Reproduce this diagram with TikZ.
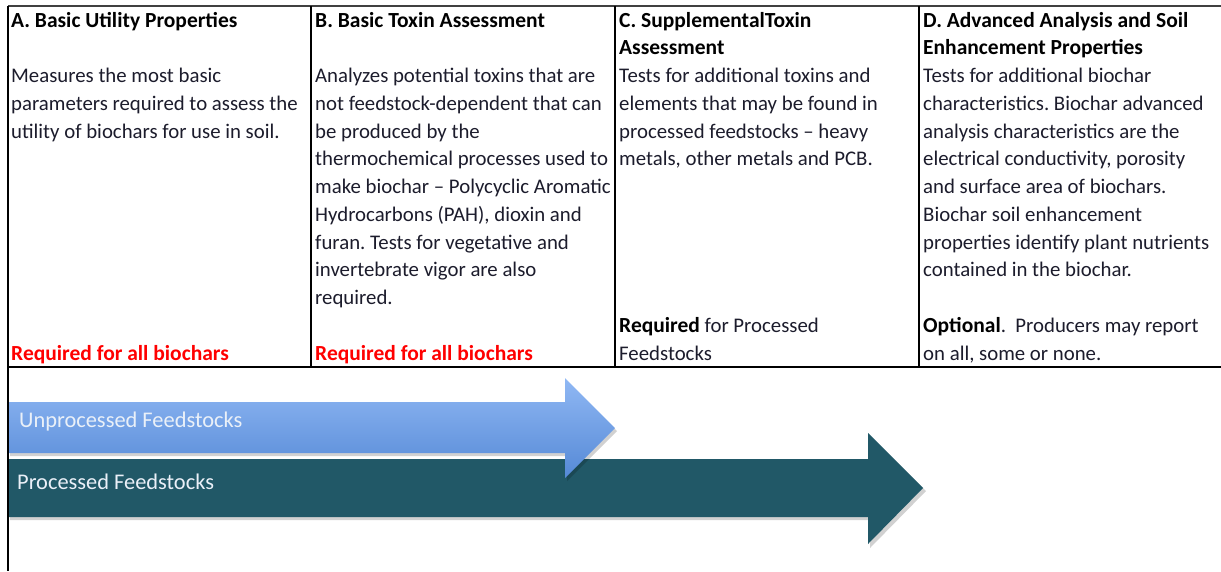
\documentclass[tikz,border=0pt]{standalone}
\usepackage{fontspec}
\setmainfont{Carlito}
\frenchspacing
\definecolor{bodytxt}{HTML}{1C1C2C}
\definecolor{reqred}{HTML}{FF0000}
\definecolor{teal}{HTML}{215867}
\definecolor{bluetop}{HTML}{90B8F4}
\definecolor{bluebot}{HTML}{5589D6}
\definecolor{arrowtxt}{HTML}{EAF0F8}
\begin{document}
\begin{tikzpicture}[x=1pt,y=-1pt,
  cell/.style={anchor=base west,inner sep=0pt,font=\fontsize{20.8}{24}\selectfont,text=bodytxt},
  head/.style={cell,text=black,font=\fontsize{21.5}{24}\selectfont\bfseries},
  req/.style={cell,text=reqred,font=\fontsize{21.5}{24}\selectfont\bfseries},
  grid/.style={line width=1.8pt,black},
  arrowlabel/.style={anchor=west,inner sep=0pt,font=\fontsize{22.4}{26}\selectfont,text=arrowtxt}]
\useasboundingbox (0,0) rectangle (1221,571);
\fill[white] (0,0) rectangle (1221,571);
% grid
\coordinate (tl) at (8,6);
\coordinate (tr) at (1221,6);
\coordinate (bl) at (8,367);
\coordinate (br) at (1221,367);
\coordinate (lb) at (8,571);
\draw[line width=2pt,black!75] (tl) -- (tr);
\draw[grid] (bl) -- (br);
\draw[line width=1.5pt,black] (tl) -- (lb);
\foreach \x/\n in {311/b,615/c,919/d}{
  \coordinate (top\n) at (\x,6);
  \coordinate (bot\n) at (\x,367);
  \draw[grid] (top\n) -- (bot\n);
}
% baseline of line n = 27 + (n-1)*27.75
% Column A
\node[head] (ah) at (11,27) {A. Basic Utility Properties};
\foreach \t [count=\i] in {{Measures the most basic},{parameters required to assess the},{utility of biochars for use in soil.}}{
  \node[cell] (a\i) at (11,{27+(\i+1)*27.75}) {\t};
}
\node[req] (areq) at (11,{27+12*27.75}) {Required for all biochars};
% Column B
\node[head] (bh) at (315,27) {B. Basic Toxin Assessment};
\foreach \t [count=\i] in {{Analyzes potential toxins that are},{not feedstock-dependent that can},{be produced by the},{thermochemical processes used to},{make biochar – Polycyclic Aromatic},{Hydrocarbons (PAH), dioxin and},{furan. Tests for vegetative and},{invertebrate vigor are also},{required.}}{
  \node[cell] (b\i) at (315,{27+(\i+1)*27.75}) {\t};
}
\node[req] (breq) at (315,{27+12*27.75}) {Required for all biochars};
% Column C
\node[head] (ch1) at (619,27) {C. SupplementalToxin};
\node[head] (ch2) at (619,{27+27.75}) {Assessment};
\foreach \t [count=\i] in {{Tests for additional toxins and},{elements that may be found in},{processed feedstocks – heavy},{metals, other metals and PCB.}}{
  \node[cell] (c\i) at (619,{27+(\i+1)*27.75}) {\t};
}
\node[cell] (creq1) at (619,{27+11*27.75}) {{\fontsize{21.5}{24}\selectfont\bfseries\color{black}Required} for Processed};
\node[cell] (creq2) at (619,{27+12*27.75}) {Feedstocks};
% Column D
\node[head] (dh1) at (923,27) {D. Advanced Analysis and Soil};
\node[head] (dh2) at (923,{27+27.75}) {Enhancement Properties};
\foreach \t [count=\i] in {{Tests for additional biochar},{characteristics. Biochar advanced},{analysis characteristics are the},{electrical conductivity, porosity},{and surface area of biochars.},{Biochar soil enhancement},{properties identify plant nutrients},{contained in the biochar.}}{
  \node[cell] (d\i) at (923,{27+(\i+1)*27.75}) {\t};
}
\node[cell] (dopt1) at (923,{27+11*27.75}) {{\fontsize{21.5}{24}\selectfont\bfseries\color{black}Optional}.\ \ Producers may report};
\node[cell] (dopt2) at (923,{27+12*27.75}) {on all, some or none.};
% Processed arrow (behind)
\fill[black,opacity=0.18] (10,462) -- (870,462) -- (870,436) -- (926,491) -- (870,548) -- (870,520) -- (10,520) -- cycle;
\fill[teal] (9,459) -- (868,459) -- (868,433) -- (923,488) -- (868,544) -- (868,517) -- (9,517) -- cycle;
\node[arrowlabel] (proc) at (17,482) {Processed Feedstocks};
% Unprocessed arrow (front)
\fill[black,opacity=0.18] (10,405) -- (567,405) -- (567,381) -- (617,431) -- (567,481) -- (567,456) -- (10,456) -- cycle;
\shade[top color=bluetop,bottom color=bluebot] (9,402) -- (565,402) -- (565,378) -- (615,428) -- (565,478) -- (565,453) -- (9,453) -- cycle;
\node[arrowlabel] (unproc) at (19,422) {Unprocessed Feedstocks};
\end{tikzpicture}
\end{document}
